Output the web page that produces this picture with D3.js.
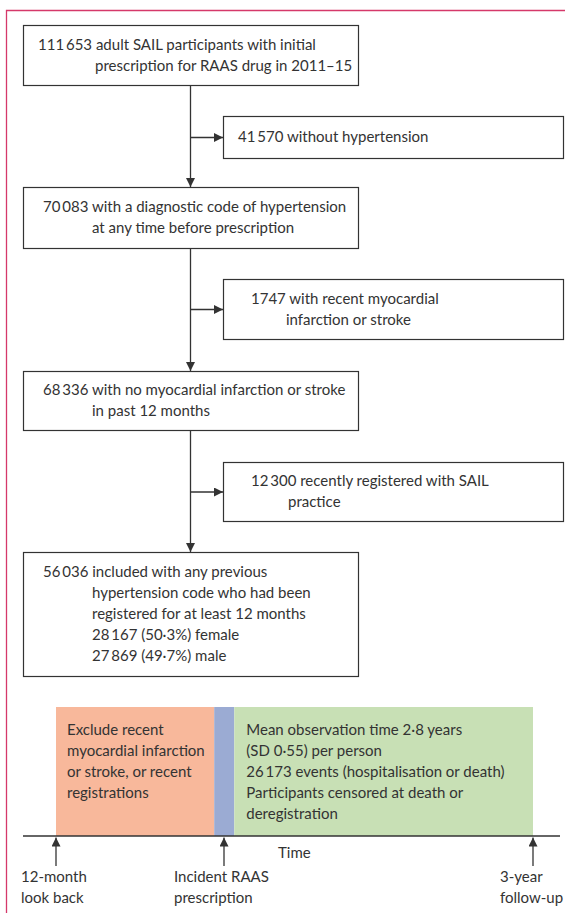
<!DOCTYPE html>
<html>
<head>
  <style>
    body { margin: 0; background: #fff; }
    svg { display: block; font-family: Lato, "Open Sans", sans-serif; }
  </style>
</head>
<body>
  <svg width="565" height="913"></svg>
  <script src="https://d3js.org/d3.v7.min.js"></script>
  <script>
    // flow boxes (text lines), exclusions, timeline
    const mainBoxes = [
      ["111\u2009653 adult SAIL participants with initial", "prescription for RAAS drug in 2011\u201315"],
      ["70\u2009083 with a diagnostic code of hypertension", "at any time before prescription"],
      ["68\u2009336 with no myocardial infarction or stroke", "in past 12 months"],
      ["56\u2009036 included with any previous", "hypertension code who had been", "registered for at least 12 months", "28\u2009167 (50\u00b73%) female", "27\u2009869 (49\u00b77%) male"]
    ];
    const exclusions = [
      ["41\u2009570 without hypertension"],
      ["1747 with recent myocardial", "infarction or stroke"],
      ["12\u2009300 recently registered with SAIL", "practice"]
    ];
    // months relative to incident prescription
    const segments = [
      { name: "lookback", from: -12, to: -0.7, lines: ["Exclude recent", "myocardial infarction", "or stroke, or recent", "registrations"] },
      { name: "index", from: -0.7, to: 1.2, lines: [] },
      { name: "followup", from: 1.2, to: 36, lines: ["Mean observation time 2\u00b78 years", "(SD 0\u00b755) per person", "26\u2009173 events (hospitalisation or death)", "Participants censored at death or", "deregistration"] }
    ];
    const markers = [
      { month: -12, label: ["12-month", "look back"] },
      { month: 0, label: ["Incident RAAS", "prescription"] },
      { month: 36, label: ["3-year", "follow-up"] }
    ];
    const segColors = { lookback: "#f8b89b", index: "#9babd3", followup: "#c8e0b5" };

    const svg = d3.select("svg");
    const ink = "#333";
    const fs = 15;
    const lh = 21;

    // frame
    svg.append("path")
      .attr("d", "M6.5,913V10.5H565")
      .attr("fill", "none")
      .attr("stroke", "#d5386a")
      .attr("stroke-width", 1.3);

    // layout of flow
    const mainLayout = [
      { y: 25, h: 60, x1: 38, x2: 95 },
      { y: 187, h: 61, x1: 43, x2: 92 },
      { y: 371, h: 59, x1: 43, x2: 92 },
      { y: 552, h: 124, x1: 43, x2: 92 }
    ];
    const exclLayout = [
      { y: 116, h: 42, x1: 238, x2: 238 },
      { y: 279, h: 60, x1: 251, x2: 286 },
      { y: 462, h: 59, x1: 251, x2: 288 }
    ];
    const mainX = 23, mainW = 335, sideX = 223, sideW = 340, spineX = 190.5;

    const defs = svg.append("defs");
    defs.append("marker")
      .attr("id", "ah")
      .attr("viewBox", "0 0 10 10")
      .attr("refX", 10).attr("refY", 5)
      .attr("markerWidth", 9).attr("markerHeight", 9)
      .attr("markerUnits", "userSpaceOnUse")
      .attr("orient", "auto")
      .append("path").attr("d", "M0,0L10,5L0,10Z").attr("fill", ink);

    function drawBox(x, w, lay, lines) {
      const g = svg.append("g");
      g.append("rect")
        .attr("x", x + 0.5).attr("y", lay.y + 0.5)
        .attr("width", w).attr("height", lay.h)
        .attr("fill", "#fff").attr("stroke", ink).attr("stroke-width", 1.2);
      const top = lay.y + lay.h / 2 - (lines.length - 1) * lh / 2;
      g.selectAll("text").data(lines).join("text")
        .attr("x", (d, i) => i === 0 ? lay.x1 : lay.x2)
        .attr("y", (d, i) => top + i * lh + 5)
        .attr("font-size", fs)
        .attr("fill", ink)
        .text(d => d);
    }

    // spine
    mainLayout.slice(1).forEach((lay, i) => {
      const prev = mainLayout[i];
      svg.append("line")
        .attr("x1", spineX).attr("x2", spineX)
        .attr("y1", prev.y + prev.h).attr("y2", lay.y)
        .attr("stroke", ink).attr("stroke-width", 1.3)
        .attr("marker-end", "url(#ah)");
    });
    exclLayout.forEach(lay => {
      const cy = lay.y + lay.h / 2 + 0.5;
      svg.append("line")
        .attr("x1", spineX).attr("x2", sideX)
        .attr("y1", cy).attr("y2", cy)
        .attr("stroke", ink).attr("stroke-width", 1.3)
        .attr("marker-end", "url(#ah)");
    });

    mainBoxes.forEach((lines, i) => drawBox(mainX, mainW, mainLayout[i], lines));
    exclusions.forEach((lines, i) => drawBox(sideX, sideW, exclLayout[i], lines));

    // timeline
    const x = d3.scaleLinear().domain([-12, 0, 36]).range([56, 224, 533]);
    const axisY = 836, bandTop = 707;

    const tl = svg.append("g");
    tl.selectAll("rect").data(segments).join("rect")
      .attr("x", d => x(d.from)).attr("y", bandTop)
      .attr("width", d => x(d.to) - x(d.from))
      .attr("height", axisY - bandTop)
      .attr("fill", d => segColors[d.name]);

    segments.forEach(s => {
      tl.selectAll(null).data(s.lines).join("text")
        .attr("x", x(s.from) + (s.name === "lookback" ? 11 : 12))
        .attr("y", (d, i) => 735 + i * lh)
        .attr("font-size", fs).attr("fill", ink)
        .text(d => d);
    });

    tl.append("line")
      .attr("x1", 23).attr("x2", 560)
      .attr("y1", axisY).attr("y2", axisY)
      .attr("stroke", ink).attr("stroke-width", 1.3);

    tl.append("text")
      .attr("x", 278).attr("y", 858)
      .attr("font-size", fs).attr("fill", ink)
      .text("Time");

    const mk = tl.selectAll("g.mk").data(markers).join("g")
      .attr("class", "mk")
      .attr("transform", d => `translate(${x(d.month)},0)`);
    mk.append("line")
      .attr("x1", 0).attr("x2", 0)
      .attr("y1", 866).attr("y2", axisY + 1.5)
      .attr("stroke", ink).attr("stroke-width", 1.3)
      .attr("marker-end", "url(#ah)");
    const labelDx = [-35, -50, -33];
    mk.each(function (d, i) {
      d3.select(this).selectAll("text").data(d.label).join("text")
        .attr("x", labelDx[i])
        .attr("y", (t, j) => 882 + j * 20.5)
        .attr("font-size", fs).attr("fill", ink)
        .text(t => t);
    });
  </script>
</body>
</html>
